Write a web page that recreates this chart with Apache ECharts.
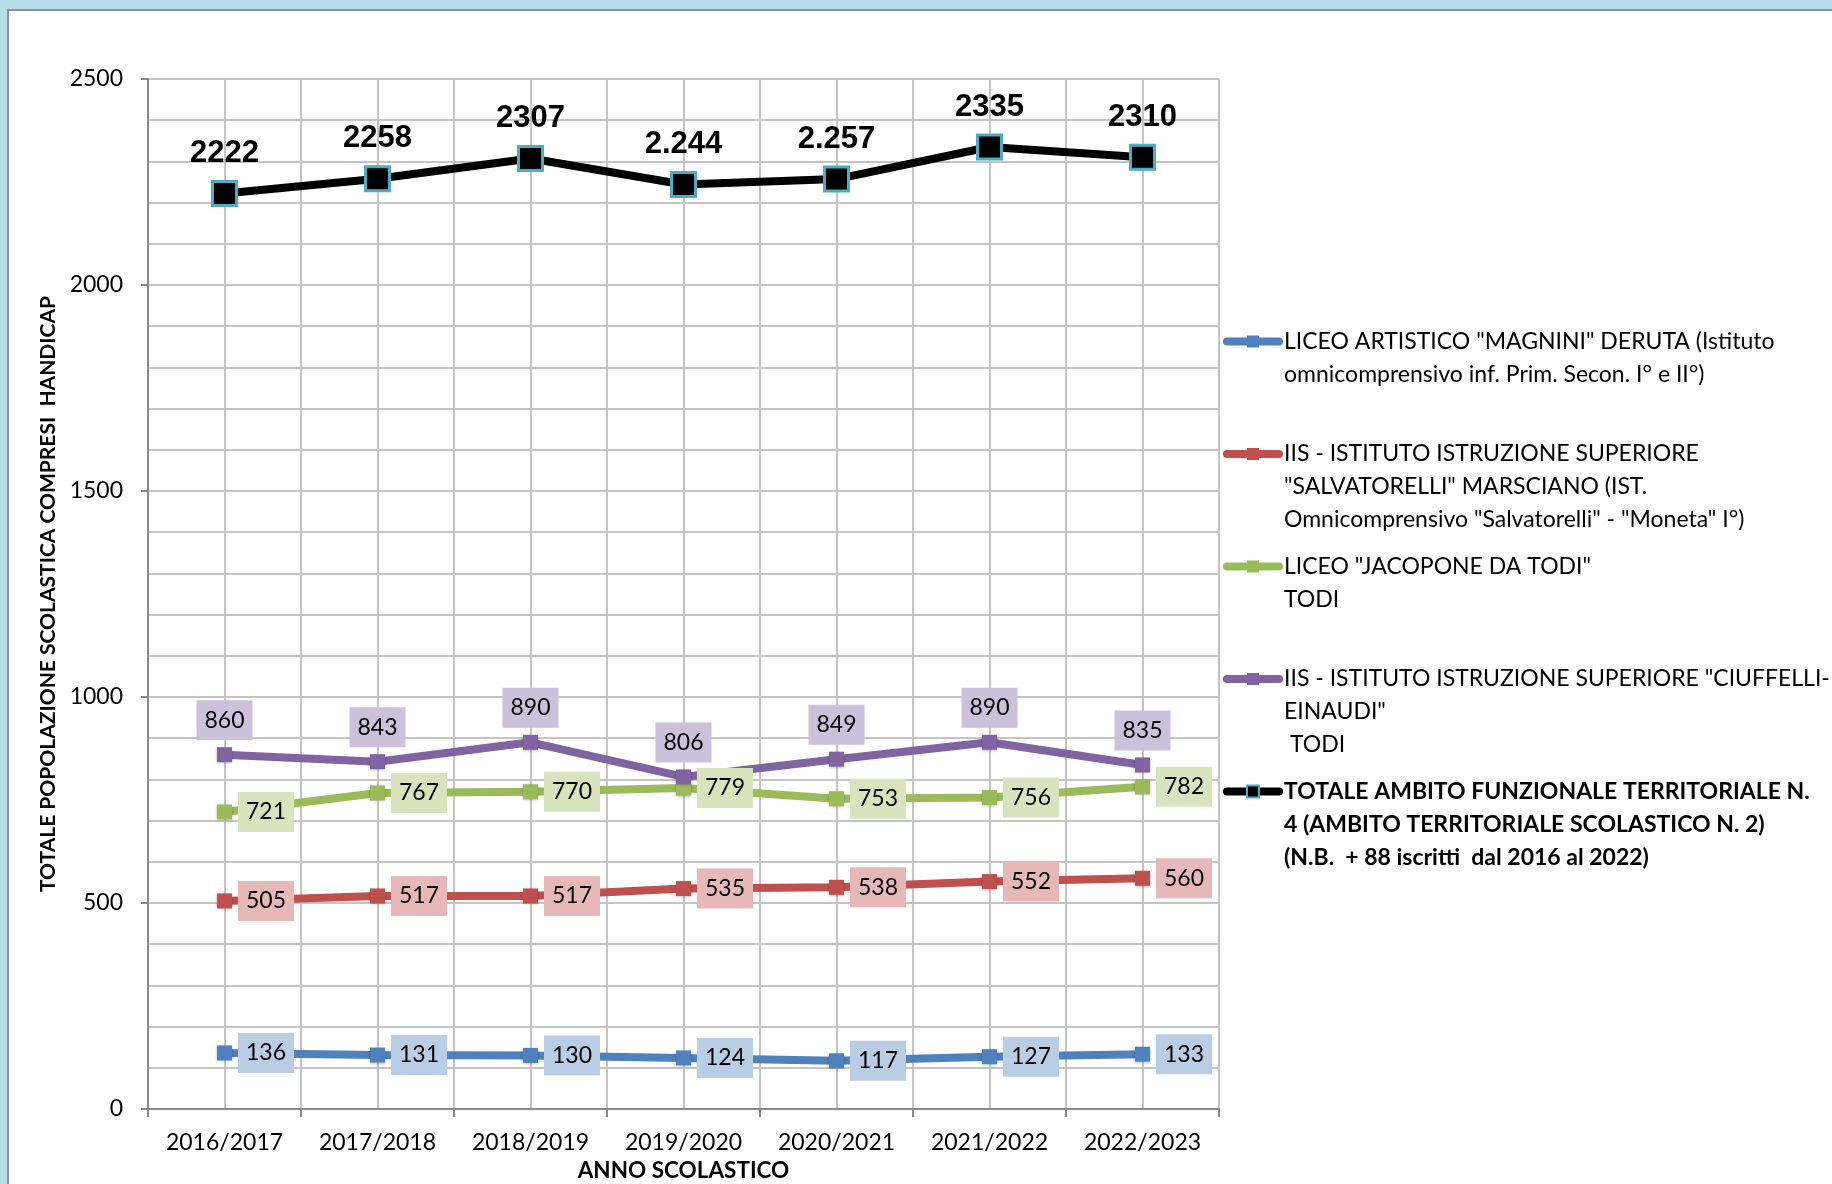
<!DOCTYPE html>
<html>
<head>
<meta charset="utf-8">
<title>Popolazione scolastica</title>
<script src="https://cdn.jsdelivr.net/npm/echarts@6/dist/echarts.min.js"></script>
<style>
  html, body { margin: 0; padding: 0; width: 1832px; height: 1184px; background: #b7dde8; overflow: hidden; }
  #frame { position: absolute; left: 7px; top: 9px; width: 1825px; height: 1175px; background: #fff;
           border-left: 2px solid #909090; border-top: 2px solid #909090; }
  #chart { position: absolute; left: 0; top: 0; width: 1832px; height: 1184px; }
</style>
</head>
<body>
<div id="frame"></div>
<div id="chart"></div>
<script>
// anni scolastici
const anni = ['2016/2017', '2017/2018', '2018/2019', '2019/2020', '2020/2021', '2021/2022', '2022/2023'];

// iscritti per scuola
const liceoArtistico = [136, 131, 130, 124, 117, 127, 133];
const iisSalvatorelli = [505, 517, 517, 535, 538, 552, 560];
const liceoJacopone = [721, 767, 770, 779, 753, 756, 782];
const iisCiuffelli = [860, 843, 890, 806, 849, 890, 835];
const totaleAmbito = [2222, 2258, 2307, 2244, 2257, 2335, 2310];
// etichette del totale come scritte nel grafico
const etichetteTotale = ['2222', '2258', '2307', '2.244', '2.257', '2335', '2310'];

// nomi serie e testo legenda (righe)
const nomi = ['liceoArtistico', 'iisSalvatorelli', 'liceoJacopone', 'iisCiuffelli', 'totaleAmbito'];
const legendaRighe = {
  liceoArtistico: ['LICEO ARTISTICO "MAGNINI" DERUTA (Istituto', 'omnicomprensivo inf. Prim. Secon. I° e II°)'],
  iisSalvatorelli: ['IIS - ISTITUTO ISTRUZIONE SUPERIORE', '"SALVATORELLI" MARSCIANO (IST.', 'Omnicomprensivo "Salvatorelli" - "Moneta" I°)'],
  liceoJacopone: ['LICEO "JACOPONE DA TODI"', 'TODI'],
  iisCiuffelli: ['IIS - ISTITUTO ISTRUZIONE SUPERIORE "CIUFFELLI-', 'EINAUDI"', ' TODI'],
  totaleAmbito: ['TOTALE AMBITO FUNZIONALE TERRITORIALE N.', '4 (AMBITO TERRITORIALE SCOLASTICO N. 2)', '(N.B.  + 88 iscritti  dal 2016 al 2022)']
};

const font = 'Lato';

// la legenda centra il testo sull'icona: 2 righe vuote sopra cosi la prima riga sta all'altezza dell'icona
const testoLegenda = (name) => {
  let r = ['', ''].concat(legendaRighe[name]);
  while (r.length < 5) r.push('');
  return r.join('\n');
};

const serieScuola = (name, data, color, bg, pos) => ({
  name: name,
  type: 'line',
  data: data,
  xAxisIndex: 0,
  symbol: 'rect',
  symbolSize: 15,
  lineStyle: { color: color, width: 8, cap: 'round' },
  itemStyle: { color: color, shadowBlur: 3, shadowColor: 'rgba(0,0,0,0.3)', shadowOffsetY: 1 },
  label: {
    show: true,
    position: pos,
    distance: pos == 'top' ? 7 : 6,
    backgroundColor: bg,
    padding: [7, 8],
    fontFamily: font,
    fontSize: 23,
    lineHeight: 26,
    color: '#000'
  },
  emphasis: { disabled: true }
});

const chart = echarts.init(document.getElementById('chart'));
chart.setOption({
  animation: false,
  backgroundColor: 'transparent',
  grid: { left: 148, top: 79, width: 1071, height: 1030, outerBoundsMode: 'none' },
  legend: {
    orient: 'vertical',
    left: 1223,
    top: 259,
    padding: 0,
    itemWidth: 52,
    itemHeight: 15,
    itemGap: -52.5,
    selectedMode: false,
    lineStyle: { width: 8 },
    data: nomi.map((n, i) => ({
      name: n,
      textStyle: i == 4 ? { fontWeight: 'bold' } : {}
    })),
    formatter: testoLegenda,
    textStyle: { fontFamily: font, fontSize: 23, lineHeight: 33, color: '#000' }
  },
  xAxis: [
    {
      type: 'category',
      data: anni,
      boundaryGap: true,
      name: 'ANNO SCOLASTICO',
      nameLocation: 'middle',
      nameGap: 46,
      nameTextStyle: { fontFamily: font, fontWeight: 'bold', fontSize: 22.5, color: '#000' },
      axisLine: { lineStyle: { color: '#8a8a8a', width: 2 } },
      axisTick: { show: true, length: 8, lineStyle: { color: '#8a8a8a', width: 2 } },
      axisLabel: { margin: 22, fontFamily: font, fontSize: 23, color: '#000' },
      splitLine: { show: false }
    },
    {
      // solo per la griglia verticale ogni mezzo anno
      type: 'value',
      position: 'top',
      min: 0,
      max: 14,
      interval: 1,
      axisLine: { show: false },
      axisTick: { show: false },
      axisLabel: { show: false },
      splitLine: { show: true, lineStyle: { color: '#c4c4c4', width: 2 } }
    }
  ],
  yAxis: {
    type: 'value',
    min: 0,
    max: 2500,
    interval: 500,
    name: 'TOTALE POPOLAZIONE SCOLASTICA COMPRESI  HANDICAP',
    nameLocation: 'middle',
    nameGap: 86,
    nameTextStyle: { fontFamily: font, fontWeight: 'bold', fontSize: 21, color: '#000' },
    axisLine: { show: true, lineStyle: { color: '#8a8a8a', width: 2 } },
    axisTick: { show: true, length: 7, lineStyle: { color: '#8a8a8a', width: 2 } },
    axisLabel: { margin: 25, fontFamily: font, fontSize: 23, color: '#000', formatter: (v) => String(v) },
    splitLine: { show: true, lineStyle: { color: '#c4c4c4', width: 2 } },
    minorTick: { show: false, splitNumber: 5 },
    minorSplitLine: { show: true, lineStyle: { color: '#c4c4c4', width: 2 } }
  },
  series: [
    serieScuola('liceoArtistico', liceoArtistico, '#4f81bd', '#b9cde5', 'right'),
    serieScuola('iisSalvatorelli', iisSalvatorelli, '#c0504d', '#e6b9b8', 'right'),
    serieScuola('liceoJacopone', liceoJacopone, '#9bbb59', '#d7e4bd', 'right'),
    serieScuola('iisCiuffelli', iisCiuffelli, '#8064a2', '#ccc1da', 'top'),
    {
      name: 'totaleAmbito',
      type: 'line',
      data: totaleAmbito,
      xAxisIndex: 0,
      symbol: 'rect',
      symbolSize: 24,
      lineStyle: { color: '#000', width: 8, cap: 'round' },
      itemStyle: { color: '#000', borderColor: '#4bacc6', borderWidth: 3 },
      label: {
        show: true,
        position: 'top',
        distance: 10,
        fontFamily: 'Liberation Sans',
        fontWeight: 'bold',
        fontSize: 31,
        lineHeight: 33,
        color: '#000',
        formatter: (p) => etichetteTotale[p.dataIndex]
      },
      emphasis: { disabled: true }
    }
  ]
});
</script>
</body>
</html>
